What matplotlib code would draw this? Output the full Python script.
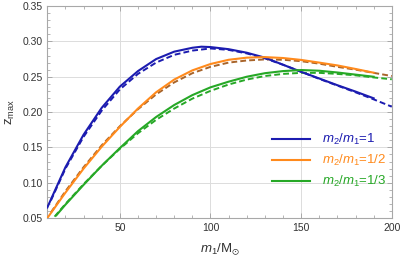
#!/usr/bin/env python3
"""Recreate the z_max vs m1 chart (solid and dashed curves for three mass ratios)."""

import matplotlib
matplotlib.use("Agg")
import matplotlib.pyplot as plt
from matplotlib.ticker import MultipleLocator

plt.rcParams["font.family"] = ["Liberation Sans", "DejaVu Sans"]
plt.rcParams["mathtext.fontset"] = "custom"
plt.rcParams["mathtext.rm"] = "Liberation Sans"
plt.rcParams["mathtext.it"] = "Liberation Sans:italic"
plt.rcParams["mathtext.fallback"] = "stixsans"

# solid curves
x_solid_q1 = [10, 20, 30, 40, 50, 60, 70, 80, 90, 95, 100, 110, 120, 130, 140, 150, 160, 170, 180, 190]
z_solid_q1 = [0.065, 0.122, 0.168, 0.206, 0.236, 0.258, 0.275, 0.2855, 0.291, 0.2925, 0.292, 0.289,
              0.284, 0.277, 0.267, 0.257, 0.2475, 0.238, 0.229, 0.2195]
x_solid_q2 = [10, 20, 30, 40, 50, 60, 70, 80, 90, 100, 110, 120, 130, 140, 150, 160, 170, 180, 190]
z_solid_q2 = [0.050, 0.086, 0.120, 0.151, 0.179, 0.205, 0.228, 0.246, 0.259, 0.268, 0.274, 0.277,
              0.2778, 0.2765, 0.2738, 0.270, 0.266, 0.261, 0.2557]
x_solid_q3 = [15, 20, 30, 40, 50, 60, 70, 80, 90, 100, 110, 120, 130, 140, 150, 160, 170, 180, 190]
z_solid_q3 = [0.054, 0.069, 0.097, 0.124, 0.149, 0.173, 0.193, 0.210, 0.224, 0.235, 0.243, 0.250,
              0.255, 0.258, 0.2595, 0.2585, 0.256, 0.253, 0.250]

# dashed curves
x_dash_q1 = [12, 20, 30, 40, 50, 60, 70, 80, 90, 100, 110, 120, 130, 140, 150, 160, 170, 180, 190, 200]
z_dash_q1 = [0.075, 0.120, 0.165, 0.202, 0.232, 0.254, 0.270, 0.281, 0.287, 0.290, 0.288, 0.283,
             0.276, 0.267, 0.257, 0.247, 0.2375, 0.228, 0.218, 0.2076]
x_dash_q2 = [12, 20, 30, 40, 50, 60, 70, 80, 90, 100, 110, 120, 130, 140, 150, 160, 170, 180, 190, 200]
z_dash_q2 = [0.058, 0.088, 0.122, 0.153, 0.180, 0.204, 0.225, 0.242, 0.255, 0.264, 0.270, 0.273,
             0.2745, 0.274, 0.272, 0.2685, 0.264, 0.260, 0.2555, 0.251]
x_dash_q3 = [14, 20, 30, 40, 50, 60, 70, 80, 90, 100, 110, 120, 130, 140, 150, 160, 170, 180, 190, 200]
z_dash_q3 = [0.052, 0.070, 0.098, 0.124, 0.148, 0.170, 0.189, 0.205, 0.219, 0.230, 0.239, 0.246,
             0.251, 0.254, 0.2555, 0.2555, 0.254, 0.252, 0.249, 0.2464]

labels = [r"$m_2/m_1$=1", r"$m_2/m_1$=1/2", r"$m_2/m_1$=1/3"]
solid_colors = ["#1c1cb0", "#ff8a1c", "#26a826"]
dash_colors = ["#1c1cb0", "#a8642a", "#26a826"]

fig = plt.figure(figsize=(4.01, 2.64), dpi=100)
ax = fig.add_axes([0.118, 0.174, 0.859, 0.803])

ax.grid(True, which="major", color="#dcdcdc", lw=0.7)
ax.xaxis.set_major_locator(MultipleLocator(50))
ax.xaxis.set_minor_locator(MultipleLocator(10))
ax.yaxis.set_major_locator(MultipleLocator(0.05))
ax.yaxis.set_minor_locator(MultipleLocator(0.01))

xs = [x_dash_q1, x_dash_q2, x_dash_q3]
zs = [z_dash_q1, z_dash_q2, z_dash_q3]
for x, z, c in zip(xs, zs, dash_colors):
    ax.plot(x, z, color=c, lw=1.4, dashes=(3.0, 1.6), zorder=3)

handles = []
xs = [x_solid_q1, x_solid_q2, x_solid_q3]
zs = [z_solid_q1, z_solid_q2, z_solid_q3]
for x, z, c, lab in zip(xs, zs, solid_colors, labels):
    h, = ax.plot(x, z, color=c, lw=1.5, label=lab, zorder=4)
    handles.append(h)

ax.set_xlim(10, 200)
ax.set_ylim(0.05, 0.35)
ax.set_yticks([0.05, 0.10, 0.15, 0.20, 0.25, 0.30, 0.35])
ax.set_yticklabels(["0.05", "0.10", "0.15", "0.20", "0.25", "0.30", "0.35"])
ax.set_xticks([50, 100, 150, 200])

for s in ax.spines.values():
    s.set_color("#a8a8a8")
    s.set_linewidth(0.8)
ax.tick_params(which="both", direction="in", top=True, right=True, color="#a8a8a8",
               labelsize=7.5, labelcolor="#333333")
ax.tick_params(which="major", length=3.5, width=0.7)
ax.tick_params(which="minor", length=2, width=0.6)

ax.set_xlabel(r"$m_1/\mathrm{M}_{\odot}$", fontsize=9.5, color="#333333", labelpad=6)
ax.set_ylabel(r"$\mathrm{z}_{\mathrm{max}}$", fontsize=9.5, color="#333333", labelpad=4)

leg = ax.legend(handles=handles, loc="upper left", bbox_to_anchor=(0.652, 0.405),
                frameon=False, fontsize=9.5, handlelength=2.9, handletextpad=0.9,
                labelspacing=0.45, borderpad=0, borderaxespad=0, labelcolor="linecolor")
for line in leg.get_lines():
    line.set_linewidth(1.5)

fig.savefig("out.png", dpi=100)
